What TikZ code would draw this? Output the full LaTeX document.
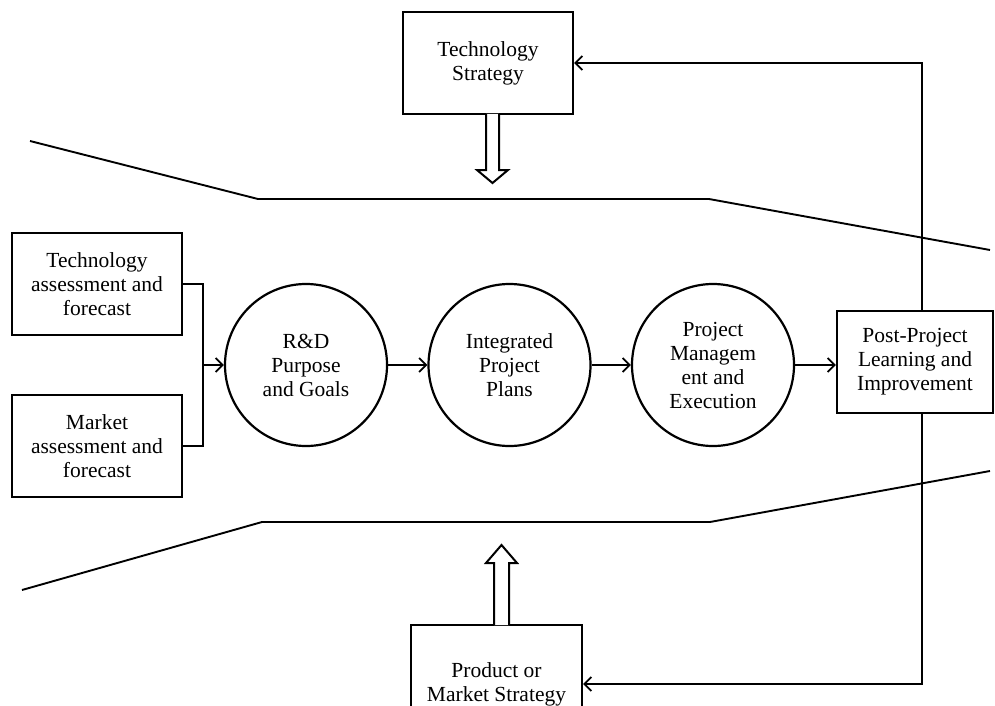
\documentclass[tikz,border=0pt]{standalone}
\usepackage{fontspec}
\setmainfont{Liberation Serif}
\usetikzlibrary{arrows.meta}

\tikzset{
	box/.style = {draw, line width=2.2pt, align=center, minimum width=170pt, minimum height=102pt, inner sep=2pt},
	stage/.style = {draw, circle, line width=2.2pt, align=center, minimum size=162pt, inner sep=0pt},
	flow/.style = {line width=1.8pt, -{Straight Barb[length=7pt,width=14pt,line width=1.8pt]}},
	link/.style = {line width=1.8pt},
	wall/.style = {line width=1.9pt, line join=round},
	hollow/.style = {draw, line width=2pt, fill=white, line join=miter}
}

\begin{document}
\begin{tikzpicture}[x=1pt, y=-1pt, font=\fontsize{21.5pt}{24pt}\selectfont]

\clip (0,0) rectangle (995,706);

% funnel
\draw[wall] (30,141) -- (258,199) -- (709,199) -- (990,250);
\draw[wall] (22,590) -- (262,522) -- (710,522) -- (990,471);

% inputs
\node[box] (techass) at (97,284) {Technology\\assessment and\\forecast};
\node[box] (mktass) at (97,446) {Market\\assessment and\\forecast};
\node[box] (techstrat) at (488,63) {Technology\\Strategy};
\node[box, minimum width=171pt, minimum height=118pt] (prodstrat) at (496.5,684) {Product or\\Market Strategy};

% stages
\foreach \n/\x/\t in {rd/306/{R\&D\\Purpose\\and Goals}, plans/509.5/{Integrated\\Project\\Plans}, exec/713/{Project\\Managem\\ent and\\Execution}}{
	\node[stage] (\n) at (\x,365) {\t};
}
\node[box, minimum width=156pt] (post) at (915,362) {Post-Project\\Learning and\\Improvement};

\coordinate (merge) at (203,365);
\coordinate (loop) at (922,362);

\draw[link] (techass.east) -| (merge);
\draw[link] (mktass.east) -| (merge);
\draw[flow] (merge) -- (rd);
\foreach \a/\b in {rd/plans, plans/exec}{
	\draw[flow] (\a) -- (\b);
}
\draw[flow] (exec) -- (exec -| post.west);

% feedback
\draw[flow] (post.north -| loop) |- (techstrat.east);
\draw[flow] (post.south -| loop) |- (prodstrat.east);

% strategy arrows
\draw[hollow] (486,114) -- (486,170) -- (477,170) -- (492.5,183) -- (508,170) -- (499,170) -- (499,114);
\draw[hollow] (494,625) -- (494,563) -- (486,563) -- (501.5,545) -- (517,563) -- (509,563) -- (509,625);
%\draw (techstrat.south) -- (techstrat.south |- 0,199);
\end{tikzpicture}
\end{document}
